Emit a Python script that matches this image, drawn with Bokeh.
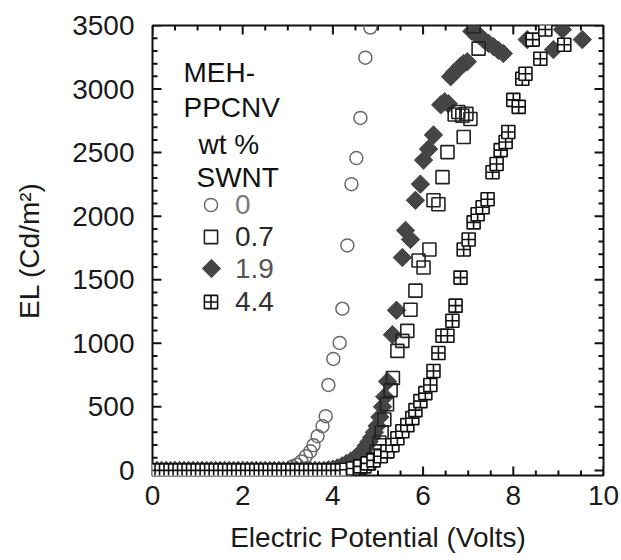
import math
from bokeh.plotting import figure
from bokeh.models import Range1d, LinearAxis, SingleIntervalTicker, Legend, LegendItem, Label
from bokeh.embed import file_html
from bokeh.resources import INLINE

FONT = "Liberation Sans"

# ---- data (Electric potential in volts, EL in Cd/m^2) ----
volts_wt0 = [0.0, 0.1, 0.2, 0.3, 0.4, 0.5, 0.6, 0.7, 0.8, 0.9, 1.0, 1.1, 1.2, 1.3, 1.4, 1.5,
             1.6, 1.7, 1.8, 1.9, 2.0, 2.1, 2.2, 2.3, 2.4, 2.5, 2.6, 2.7, 2.8, 2.9, 3.0,
             3.1, 3.2, 3.3, 3.4, 3.5, 3.57, 3.66, 3.77, 3.84, 3.9, 4.01, 4.15, 4.21, 4.32,
             4.41, 4.52, 4.61, 4.72, 4.83]
el_wt0 = [0, 0, 0, 0, 0, 0, 0, 0, 0, 0, 0, 0, 0, 0, 0, 0,
          0, 0, 0, 0, 0, 0, 0, 0, 0, 0, 0, 0, 0, 0, 5,
          30, 45, 71, 111, 150, 198, 269, 348, 427, 672, 877, 1003, 1272, 1770,
          2252, 2457, 2773, 3247, 3484]

volts_wt07 = [0.0, 0.1, 0.2, 0.3, 0.4, 0.5, 0.6, 0.7, 0.8, 0.9, 1.0, 1.1, 1.2, 1.3, 1.4, 1.5,
              1.6, 1.7, 1.8, 1.9, 2.0, 2.1, 2.2, 2.3, 2.4, 2.5, 2.6, 2.7, 2.8, 2.9, 3.0,
              3.1, 3.2, 3.3, 3.4, 3.5, 3.6, 3.7, 3.8, 3.9, 4.0, 4.1, 4.2, 4.3, 4.4,
              4.5, 4.6, 4.7, 4.8, 4.9, 4.97, 5.03, 5.08, 5.14, 5.2, 5.28, 5.33, 5.43,
              5.54, 5.65, 5.72, 5.83, 5.9, 6.01, 6.14, 6.23, 6.34, 6.43, 6.54, 6.9,
              6.7, 6.78, 6.87, 6.96, 7.05, 7.23, 7.12]
el_wt07 = [0, 0, 0, 0, 0, 0, 0, 0, 0, 0, 0, 0, 0, 0, 0, 0,
           0, 0, 0, 0, 0, 0, 0, 0, 0, 0, 0, 0, 0, 0, 0,
           0, 0, 0, 0, 0, 0, 0, 0, 0, 0, 0, 0, 0, 3,
           8, 18, 32, 55, 90, 150, 220, 300, 400, 520, 632, 727, 940,
           1019, 1098, 1264, 1414, 1651, 1596, 1738, 2125, 2094, 2307, 2504, 2623,
           2800, 2820, 2790, 2805, 2765, 3318, 3492]

volts_wt19 = [0.0, 0.1, 0.2, 0.3, 0.4, 0.5, 0.6, 0.7, 0.8, 0.9, 1.0, 1.1, 1.2, 1.3, 1.4, 1.5,
              1.6, 1.7, 1.8, 1.9, 2.0, 2.1, 2.2, 2.3, 2.4, 2.5, 2.6, 2.7, 2.8, 2.9, 3.0,
              3.1, 3.2, 3.3, 3.4, 3.5, 3.6, 3.7, 3.8, 3.9, 4.0,
              4.1, 4.2, 4.3, 4.4, 4.5, 4.57, 4.63, 4.68, 4.74, 4.8, 4.86, 4.92, 4.98,
              5.04, 5.1, 5.15, 5.21, 5.32, 5.41, 5.54, 5.61, 5.72, 5.83, 5.94, 6.01,
              6.12, 6.23, 6.39, 6.48, 6.56, 6.61, 6.69, 6.76, 6.83, 6.9, 6.98, 7.08,
              7.16, 7.25, 7.34, 7.45, 7.56, 7.67, 7.78, 8.31, 8.89, 9.09, 9.53]
el_wt19 = [0, 0, 0, 0, 0, 0, 0, 0, 0, 0, 0, 0, 0, 0, 0, 0,
           0, 0, 0, 0, 0, 0, 0, 0, 0, 0, 0, 0, 0, 0, 0,
           0, 0, 0, 0, 0, 0, 0, 0, 5, 10,
           20, 35, 55, 75, 100, 120, 140, 160, 195, 225, 260, 300, 350,
           420, 500, 580, 700, 1067, 1260, 1675, 1888, 1817, 2125, 2252, 2441,
           2528, 2639, 2876, 2900, 2884, 3097, 3130, 3152, 3180, 3200, 3215, 3455,
           3437, 3420, 3389, 3360, 3334, 3305, 3279, 3389, 3310, 3468, 3389]

volts_wt44 = [0.0, 0.1, 0.2, 0.3, 0.4, 0.5, 0.6, 0.7, 0.8, 0.9, 1.0, 1.1, 1.2, 1.3, 1.4, 1.5,
              1.6, 1.7, 1.8, 1.9, 2.0, 2.1, 2.2, 2.3, 2.4, 2.5, 2.6, 2.7, 2.8, 2.9, 3.0,
              3.1, 3.2, 3.3, 3.4, 3.5, 3.6, 3.7, 3.8, 3.9, 4.0, 4.1, 4.2, 4.3,
              4.45, 4.61, 4.77, 4.9, 5.06, 5.21, 5.32, 5.43, 5.54, 5.65, 5.76, 5.83,
              5.94, 6.05, 6.16, 6.23, 6.34, 6.43, 6.54, 6.65, 6.72, 6.83, 6.9, 7.01,
              7.12, 7.21, 7.32, 7.43, 7.54, 7.63, 7.72, 7.83, 7.89, 8.0, 8.12, 8.2,
              8.27, 8.43, 8.6, 8.71, 9.13]
el_wt44 = [0, 0, 0, 0, 0, 0, 0, 0, 0, 0, 0, 0, 0, 0, 0, 0,
           0, 0, 0, 0, 0, 0, 0, 0, 0, 0, 0, 0, 0, 0, 0,
           0, 0, 0, 0, 0, 0, 0, 0, 0, 0, 0, 0, 5,
           15, 32, 55, 79, 111, 150, 198, 253, 308, 356, 411, 474,
           545, 608, 672, 782, 924, 1059, 1059, 1177, 1296, 1517, 1738, 1817,
           1951, 2015, 2070, 2133, 2346, 2410, 2520, 2583, 2662, 2915, 2860, 3081,
           3120, 3389, 3239, 3468, 3349]

series_labels = ["0", "0.7", "1.9", "4.4"]
header_lines = ["MEH-", "PPCNV", "wt %", "SWNT"]
x_title = "Electric Potential (Volts)"
y_title = "EL (Cd/m\u00b2)"

# tick positions (labels at the major ones)
x_major_ticks = [0, 2, 4, 6, 8, 10]
x_minor_ticks = [0.5, 1, 1.5, 2.5, 3, 3.5, 4.5, 5, 5.5, 6.5, 7, 7.5, 8.5, 9, 9.5]
y_major_ticks = [0, 500, 1000, 1500, 2000, 2500, 3000, 3500]
y_minor_ticks = [100, 200, 300, 400, 600, 700, 800, 900, 1100, 1200, 1300, 1400,
                 1600, 1700, 1800, 1900, 2100, 2200, 2300, 2400, 2600, 2700, 2800, 2900,
                 3100, 3200, 3300, 3400]

X_MIN, X_MAX = 0, 10
Y_MIN, Y_MAX = -40, 3500
FRAME_W, FRAME_H = 451, 450

# ---- figure ----
p = figure(frame_width=FRAME_W, frame_height=FRAME_H,
           min_border_left=152, min_border_right=18, min_border_top=25, min_border_bottom=85,
           x_range=Range1d(X_MIN, X_MAX), y_range=Range1d(Y_MIN, Y_MAX),
           output_backend="svg", toolbar_location=None,
           x_axis_location=None, y_axis_location=None)
p.xgrid.visible = False
p.ygrid.visible = False
p.outline_line_color = "#111111"
p.outline_line_width = 2
p.background_fill_color = "white"
p.border_fill_color = "white"
# pixel-unit ranges (frame pixels): used for tick lengths and the diamond legend key
p.extra_x_ranges = {"px": Range1d(0, FRAME_W)}
p.extra_y_ranges = {"px": Range1d(0, FRAME_H)}


def label_axis(ax):
    ax.axis_line_color = None
    ax.major_tick_line_color = None
    ax.minor_tick_line_color = None
    ax.major_tick_in = 0
    ax.major_tick_out = 0
    ax.minor_tick_in = 0
    ax.minor_tick_out = 0
    ax.major_label_text_font = FONT
    ax.major_label_text_font_size = "28px"
    ax.major_label_text_color = "#1a1a1a"
    ax.axis_label_text_font = FONT
    ax.axis_label_text_font_size = "28px"
    ax.axis_label_text_font_style = "normal"
    ax.axis_label_text_color = "#1a1a1a"


xb = LinearAxis(ticker=SingleIntervalTicker(interval=2, num_minor_ticks=4), axis_label=x_title)
label_axis(xb)
xb.major_label_standoff = 10
xb.axis_label_standoff = 14
p.add_layout(xb, "below")

yl = LinearAxis(ticker=SingleIntervalTicker(interval=500, num_minor_ticks=5), axis_label=y_title)
label_axis(yl)
yl.major_label_standoff = 18
yl.axis_label_standoff = 24
p.add_layout(yl, "left")

# ---- inward ticks on all four sides of the frame ----
TICK_STYLE = dict(line_color="#111111", line_width=2)
MAJ, MIN_ = 9, 5
for ticks, ln in ((x_major_ticks, MAJ), (x_minor_ticks, MIN_)):
    n = len(ticks)
    p.segment(x0=ticks, x1=ticks, y0=[0] * n, y1=[ln] * n, y_range_name="px", **TICK_STYLE)
    p.segment(x0=ticks, x1=ticks, y0=[FRAME_H] * n, y1=[FRAME_H - ln] * n,
              y_range_name="px", **TICK_STYLE)
for ticks, ln in ((y_major_ticks, MAJ), (y_minor_ticks, MIN_)):
    n = len(ticks)
    p.segment(y0=ticks, y1=ticks, x0=[0] * n, x1=[ln] * n, x_range_name="px", **TICK_STYLE)
    p.segment(y0=ticks, y1=ticks, x0=[FRAME_W] * n, x1=[FRAME_W - ln] * n,
              x_range_name="px", **TICK_STYLE)

# ---- series ----
r0 = p.scatter(volts_wt0, el_wt0, marker="circle", size=13, fill_color=None,
               line_color="#6a6a6a", line_width=1.5)
r19 = p.scatter(volts_wt19, el_wt19, marker="square", angle=math.pi / 4, size=13,
                fill_color="#454545", line_color="#454545", line_width=1)
r07 = p.scatter(volts_wt07, el_wt07, marker="square", size=13, fill_color=None,
                line_color="#222222", line_width=1.6)
r44 = p.scatter(volts_wt44, el_wt44, marker="square_cross", size=13, fill_color="white",
                line_color="#111111", line_width=1.6)

# legend key for the diamond series (the legend would draw it unrotated)
r19_key_hidden = p.scatter([], [], marker="square", fill_alpha=0, line_alpha=0)
p.scatter([59], [207], x_range_name="px", y_range_name="px", marker="square",
          angle=math.pi / 4, size=13, fill_color="#454545", line_color="#454545",
          line_width=1)

# ---- legend (one block per entry so each label keeps its own colour) ----
entries = [(r0, series_labels[0], "#7a7a7a", 254),
           (r07, series_labels[1], "#2a2a2a", 222),
           (r19_key_hidden, series_labels[2], "#555555", 190),
           (r44, series_labels[3], "#333333", 157)]
for rend, lab, col, yb in entries:
    leg = Legend(items=[LegendItem(label=lab, renderers=[rend])], location=(42, yb),
                 margin=0, padding=0, spacing=0, border_line_color=None,
                 background_fill_alpha=0, glyph_width=33, glyph_height=33,
                 label_height=33, label_standoff=8, label_text_font=FONT,
                 label_text_font_size="28px", label_text_color=col)
    p.add_layout(leg, "center")

header_pos = [(31, 403), (31, 368), (46, 331), (44, 298)]
for txt, (hx, hy) in zip(header_lines, header_pos):
    p.add_layout(Label(x=hx, y=hy, x_units="screen", y_units="screen", text=txt,
                       text_font=FONT, text_font_size="28px", text_color="#111111",
                       text_baseline="alphabetic"))

open("out.html", "w").write(file_html(p, INLINE))
